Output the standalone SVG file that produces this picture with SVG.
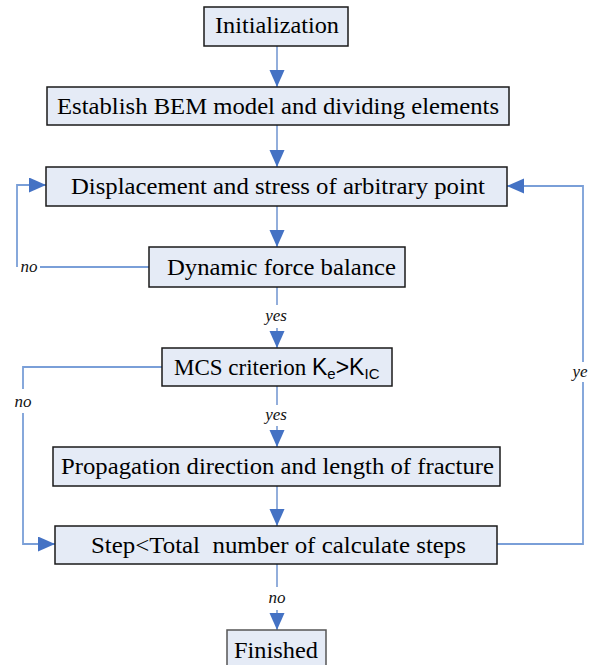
<svg xmlns="http://www.w3.org/2000/svg" width="590" height="665" viewBox="0 0 590 665">
<defs>
<style>
.box{fill:#e5ebf6;stroke:#1a1a1a;stroke-width:1.5}
.t{font-family:'Liberation Serif','DejaVu Serif',serif;font-size:24px;fill:#000}
.s{font-family:'Liberation Sans','DejaVu Sans',sans-serif}
.lbl{font-family:'Liberation Serif','DejaVu Serif',serif;font-style:italic;font-size:17px;fill:#111;text-anchor:middle}
.main{fill:none;stroke:#4a78c4;stroke-width:1.2}
.loop{fill:none;stroke:#7a9fd8;stroke-width:1.8}
</style>
<marker id="ah" markerUnits="userSpaceOnUse" markerWidth="18" markerHeight="16" refX="17" refY="7.5" orient="auto">
<path d="M0,0 L17,7.5 L0,15 Z" fill="#4472c4"/>
</marker>
</defs>
<rect width="590" height="665" fill="#fff"/>
<g id="connectors">
<path class="main" d="M277,46 V87" marker-end="url(#ah)"/>
<path class="main" d="M277,125 V167" marker-end="url(#ah)"/>
<path class="main" d="M277,206 V247" marker-end="url(#ah)"/>
<path class="main" d="M277,287 V305"/>
<path class="main" d="M277,328 V348" marker-end="url(#ah)"/>
<path class="main" d="M277,386 V405"/>
<path class="main" d="M277,426 V447" marker-end="url(#ah)"/>
<path class="main" d="M277,486 V526" marker-end="url(#ah)"/>
<path class="main" d="M277,564 V587"/>
<path class="main" d="M277,610 V630" marker-end="url(#ah)"/>
<path class="loop" d="M149,267 H40"/>
<path class="loop" d="M17,267 V185 H46" marker-end="url(#ah)"/>
<path class="loop" d="M162,367 H23 V389"/>
<path class="loop" d="M23,413 V544 H55" marker-end="url(#ah)"/>
<path class="loop" d="M497,544 H583 V382"/>
<path class="loop" d="M583,362 V186 H507" marker-end="url(#ah)"/>
<text class="lbl" x="29" y="272">no</text>
<text class="lbl" x="23" y="407">no</text>
<text class="lbl" x="580" y="377">ye</text>
<text class="lbl" x="276" y="321">yes</text>
<text class="lbl" x="276" y="420">yes</text>
<text class="lbl" x="277" y="603">no</text>
</g>
<g id="n-init">
<rect class="box" x="204" y="7" width="144" height="39"/>
<text class="t" x="215" y="33" textLength="124" lengthAdjust="spacingAndGlyphs">Initialization</text>
</g>
<g id="n-bem">
<rect class="box" x="47" y="87" width="462" height="38"/>
<text class="t" x="57" y="114" textLength="442" lengthAdjust="spacingAndGlyphs">Establish BEM model and dividing elements</text>
</g>
<g id="n-disp">
<rect class="box" x="46" y="167" width="461" height="39"/>
<text class="t" x="71" y="194" textLength="414" lengthAdjust="spacingAndGlyphs">Displacement and stress of arbitrary point</text>
</g>
<g id="n-dyn">
<rect class="box" x="149" y="247" width="256" height="40"/>
<text class="t" x="167" y="275" textLength="229" lengthAdjust="spacingAndGlyphs">Dynamic force balance</text>
</g>
<g id="n-mcs">
<rect class="box" x="162" y="348" width="230" height="38"/>
<text class="t" x="174" y="375" style="font-size:23px">MCS criterion <tspan class="s">K</tspan><tspan class="s" style="font-size:15px" dy="4">e</tspan><tspan class="s" dy="-4">&gt;K</tspan><tspan class="s" style="font-size:15px" dy="4">IC</tspan></text>
</g>
<g id="n-prop">
<rect class="box" x="53" y="447" width="447" height="39"/>
<text class="t" x="61" y="474" textLength="433" lengthAdjust="spacingAndGlyphs">Propagation direction and length of fracture</text>
</g>
<g id="n-step">
<rect class="box" x="55" y="526" width="442" height="38"/>
<text class="t" x="91" y="553" textLength="375" lengthAdjust="spacingAndGlyphs" xml:space="preserve">Step&lt;Total  number of calculate steps</text>
</g>
<g id="n-fin">
<rect class="box" x="227" y="630" width="99" height="45" style="stroke:#555"/>
<text class="t" x="234" y="658" textLength="84" lengthAdjust="spacingAndGlyphs">Finished</text>
</g>
</svg>
